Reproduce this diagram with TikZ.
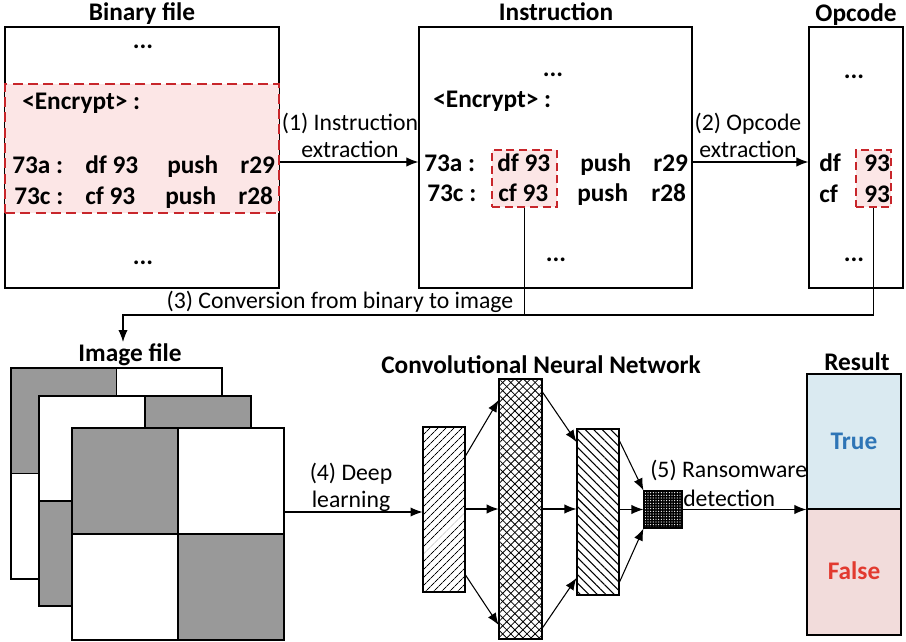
\documentclass[tikz,border=0pt]{standalone}
\usepackage{fontspec}
\setmainfont{Carlito}
\usetikzlibrary{arrows.meta,fit,patterns.meta}
\definecolor{hlpink}{HTML}{FCE6E6}
\definecolor{hlred}{HTML}{C8262B}
\definecolor{cellgray}{HTML}{999999}
\definecolor{trueblue}{HTML}{DAEAF1}
\definecolor{truetext}{HTML}{2E75B6}
\definecolor{falsepink}{HTML}{F2DCDB}
\definecolor{falsetext}{HTML}{E23A2F}

\begin{document}
\begin{tikzpicture}[x=0.75pt,y=-0.75pt,
  lbl/.style={inner sep=0pt, font=\fontsize{17.8}{19}\selectfont},
  bf/.style={inner sep=0pt, font=\fontsize{19}{21}\selectfont\bfseries},
  ttl/.style={inner sep=0pt, font=\fontsize{19}{21}\selectfont\bfseries},
  panel/.style={draw, line width=0.9pt, inner sep=0pt},
  hl/.style={draw=hlred, fill=hlpink, dash pattern=on 7.5pt off 4pt, line width=2.2pt, inner sep=0pt},
  arr/.style={line width=0.8pt, -{Latex[length=9pt,width=7pt]}},
  wire/.style={line width=0.8pt},
  layerbox/.style={draw, line width=0.8pt, inner sep=0pt},
]
\useasboundingbox (0,0) rectangle (906,642);

% ---------------- Binary file ----------------
\node[ttl, anchor=base] (tbin) at (142,21) {Binary file};
\node[panel, fit={(5,27) (279,288)}] (bin) {};
\node[hl, fit={(5,84) (279,213)}] (bindash) {};
\node[bf, anchor=base] (bdot1) at (143,49) {...};
\node[bf, anchor=base west] (benc) at (22,109) {<Encrypt> :};
\node[bf, anchor=base west] (ba1) at (12,173) {73a :};
\node[bf, anchor=base west] (ba2) at (85,173) {df 93};
\node[bf, anchor=base west] (ba3) at (167,173) {push};
\node[bf, anchor=base west] (ba4) at (240,173) {r29};
\node[bf, anchor=base west] (bc1) at (14,204) {73c :};
\node[bf, anchor=base west] (bc2) at (85,204) {cf 93};
\node[bf, anchor=base west] (bc3) at (165,204) {push};
\node[bf, anchor=base west] (bc4) at (238,204) {r28};
\node[bf, anchor=base] (bdot2) at (143,264) {...};

% ---------------- Instruction ----------------
\node[ttl, anchor=base] (tins) at (556,21) {Instruction};
\node[panel, fit={(419,27) (692,288)}] (ins) {};
\node[hl, line width=2pt, dash pattern=on 6pt off 3.5pt, fit={(492,150) (557,207)}] (insdash) {};
\node[bf, anchor=base] (idot1) at (553,76) {...};
\node[bf, anchor=base west] (ienc) at (433,108) {<Encrypt> :};
\node[bf, anchor=base west] (ia1) at (424,171) {73a :};
\node[bf, anchor=base west] (ia2) at (497,171) {df 93};
\node[bf, anchor=base west] (ia3) at (580,171) {push};
\node[bf, anchor=base west] (ia4) at (653,171) {r29};
\node[bf, anchor=base west] (ic1) at (427,201) {73c :};
\node[bf, anchor=base west] (ic2) at (498,201) {cf 93};
\node[bf, anchor=base west] (ic3) at (577,201) {push};
\node[bf, anchor=base west] (ic4) at (651,201) {r28};
\node[bf, anchor=base] (idot2) at (556,261) {...};

% ---------------- Opcode ----------------
\node[ttl, anchor=base] (topc) at (856,22) {Opcode};
\node[panel, fit={(809,27) (903,288)}] (opc) {};
\node[hl, line width=2pt, dash pattern=on 6pt off 3.5pt, fit={(856,150) (891,207)}] (opdash) {};
\node[bf, anchor=base] (odot1) at (854,79) {...};
\node[bf, anchor=base west] (oa1) at (819,171) {df};
\node[bf, anchor=base west] (oa2) at (864,171) {93};
\node[bf, anchor=base west] (oc1) at (819,202) {cf};
\node[bf, anchor=base west] (oc2) at (864,202) {93};
\node[bf, anchor=base] (odot2) at (854,261) {...};

% ---------------- steps (1) and (2) ----------------
\draw[arr] (bin.east |- 0,162) -- (ins.west |- 0,162);
\node[lbl, anchor=base] (s1a) at (350,130) {(1) Instruction};
\node[lbl, anchor=base] (s1b) at (350,157) {extraction};
\draw[arr] (ins.east |- 0,162) -- (opc.west |- 0,162);
\node[lbl, anchor=base] (s2a) at (748,130) {(2) Opcode};
\node[lbl, anchor=base] (s2b) at (748,157) {extraction};

% ---------------- step (3) ----------------
\coordinate (bend) at (123,315);
\coordinate (imgin) at (123,342);
\draw[wire] (insdash.south) -- (insdash.south |- bend);
\draw[arr] (opdash.south) |- (bend) -- (imgin);
\node[lbl, anchor=base] (s3) at (340,308) {(3) Conversion from binary to image};

% ---------------- Image file ----------------
\node[ttl, anchor=base] (timg) at (130,361) {Image file};
% back sheet
\fill[white] (11,368) rectangle (222,579);
\fill[cellgray] (11,368) rectangle (116.5,473.5);
\fill[cellgray] (116.5,473.5) rectangle (222,579);
\node[layerbox, fit={(11,368) (222,579)}] (imgback) {};
\draw[line width=0.8pt] (116.5,368) -- (116.5,579) (11,473.5) -- (222,473.5);
% middle sheet
\fill[white] (39,396) rectangle (251,606);
\fill[cellgray] (145,396) rectangle (251,501);
\fill[cellgray] (39,501) rectangle (145,606);
\node[layerbox, fit={(39,396) (251,606)}] (imgmid) {};
\draw[line width=0.8pt] (145,396) -- (145,606) (39,501) -- (251,501);
% front sheet
\fill[white] (72,428) rectangle (284,640);
\fill[cellgray] (72,428) rectangle (178,534);
\fill[cellgray] (178,534) rectangle (284,640);
\node[layerbox, fit={(72,428) (284,640)}] (imgfront) {};
\draw[line width=0.8pt] (178,428) -- (178,640) (72,534) -- (284,534);

% ---------------- step (4) ----------------
\node[ttl, anchor=base] (tcnn) at (541,373) {Convolutional Neural Network};
\node[layerbox, pattern={Lines[angle=45,distance=4pt,line width=0.7pt]}, fit={(423,427) (465,592)}] (L1) {};
\node[layerbox, pattern={Lines[angle=45,distance=4.3pt,line width=0.6pt]},
      postaction={pattern={Lines[angle=-45,distance=4.3pt,line width=0.6pt]}},
      fit={(499,379) (542,639)}] (L2) {};
\node[layerbox, pattern={Lines[angle=-45,distance=4.5pt,line width=0.8pt]}, fit={(577,429) (619,595)}] (L3) {};
\node[layerbox, fill=black, postaction={pattern={Dots[radius=0.45pt,distance=2pt]}, pattern color=white}, fit={(644,491) (682,528)}] (L4) {};
\node[layerbox, fit={(644,491) (682,528)}] {};

\draw[arr] (imgfront.east |- 0,512) -- (L1.west |- 0,512);
\node[lbl, anchor=base] (s4a) at (351,480) {(4) Deep};
\node[lbl, anchor=base] (s4b) at (351,507) {learning};

\draw[arr] (L1.east |- 0,456) -- (L2.west |- 0,400);
\draw[arr] (L1.east |- 0,509) -- (L2.west |- 0,509);
\draw[arr] (L1.east |- 0,575) -- (L2.west |- 0,625);
\draw[arr] (L2.east |- 0,392) -- (L3.west |- 0,442);
\draw[arr] (L2.east |- 0,509) -- (L3.west |- 0,509);
\draw[arr] (L2.east |- 0,628) -- (L3.west |- 0,578);
\draw[arr] (L3.east |- 0,441) -- (L4.north west);
\draw[arr] (L3.east |- L4.west) -- (L4.west);
\draw[arr] (L3.east |- 0,582) -- (L4.south west);

% ---------------- Result ----------------
\node[ttl, anchor=base] (tres) at (857,370) {Result};
\node[panel, fill=trueblue, fit={(807,374) (901,509)}] (truecell) {};
\node[panel, fill=falsepink, fit={(807,509) (901,635)}] (falsecell) {};
\node[bf, anchor=base, text=truetext] (ttrue) at (854,449) {True};
\node[bf, anchor=base, text=falsetext] (tfalse) at (854,579) {False};

% ---------------- step (5) ----------------
\draw[arr] (L4.east) -- (L4.east -| truecell.west);
\node[lbl, anchor=base west] (s5a) at (650,477) {(5) Ransomware};
\node[lbl, anchor=base west] (s5b) at (683,506) {detection};
\end{tikzpicture}
\end{document}
